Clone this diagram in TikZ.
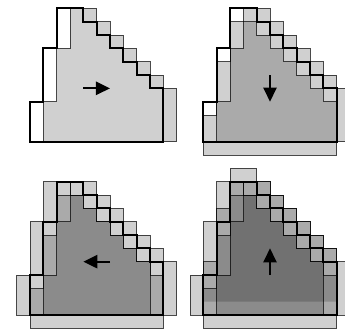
\documentclass[tikz,border=0pt]{standalone}
\usetikzlibrary{arrows.meta}
\begin{document}
\begin{tikzpicture}[x=0.5cm,y=0.5cm,
  layerfill/.style={fill=black,fill opacity=0.185},
  layerline/.style={draw=black,draw opacity=0.7,line width=0.55pt},
  layer/.style={layerfill,layerline},
  boundary/.style={draw=black,line width=1.8pt,line join=miter,opacity=1},
  motion/.style={line width=2pt,-{Triangle[length=0.53cm,width=0.5cm]}}]
\useasboundingbox (-2.25,-14.42) rectangle (23.625,10.625);
% the staircase region on a unit grid
\def\region{(0,0) -- (10,0) -- (10,4) -- (9,4) -- (9,5) -- (8,5) -- (8,6) -- (7,6) -- (7,7) -- (6,7) -- (6,8) -- (5,8) -- (5,9) -- (4,9) -- (4,10) -- (2,10) -- (2,7) -- (1,7) -- (1,3) -- (0,3) -- cycle}
% its border without the bottom side
\def\regiontop{(10,0) -- (10,4) -- (9,4) -- (9,5) -- (8,5) -- (8,6) -- (7,6) -- (7,7) -- (6,7) -- (6,8) -- (5,8) -- (5,9) -- (4,9) -- (4,10) -- (2,10) -- (2,7) -- (1,7) -- (1,3) -- (0,3) -- (0,0)}
% shift right
\begin{scope}
  \begin{scope}[shift={(1,0)}]\path[layer] \region;\end{scope}
  \begin{scope}\draw[boundary] \region;\end{scope}
  \coordinate (r1) at (4,4); \coordinate (r2) at (6,4);
  \draw[motion] (r1) -- (r2);
\end{scope}
% shift down
\begin{scope}[shift={(13,0)}]
  \begin{scope}[shift={(1,0)}]\path[layer] \region;\end{scope}
  \begin{scope}[shift={(0,-1)}]\path[layer] \region;\end{scope}
  \begin{scope}\draw[boundary] \region;\end{scope}
  \coordinate (d1) at (5,5); \coordinate (d2) at (5,3);
  \draw[motion] (d1) -- (d2);
\end{scope}
% shift left
\begin{scope}[shift={(0,-13)}]
  \begin{scope}[shift={(1,0)}]\path[layer] \region;\end{scope}
  \begin{scope}[shift={(0,-1)}]\path[layer] \region;\end{scope}
  \begin{scope}[shift={(-1,0)}]\path[layer] \region;\end{scope}
  \begin{scope}\draw[boundary] \region;\end{scope}
  \coordinate (l1) at (6,4); \coordinate (l2) at (4,4);
  \draw[motion] (l1) -- (l2);
\end{scope}
% shift up
\begin{scope}[shift={(13,-13)}]
  \begin{scope}[shift={(1,0)}]\path[layer] \region;\end{scope}
  \begin{scope}[shift={(0,-1)}]\path[layer] \region;\end{scope}
  \begin{scope}[shift={(-1,0)}]\path[layer] \region;\end{scope}
  \begin{scope}[shift={(0,1)}]\path[layerfill] \region; \path[layerline] \regiontop;\end{scope}
  \begin{scope}\draw[boundary] \region;\end{scope}
  \coordinate (u1) at (5,3); \coordinate (u2) at (5,5);
  \draw[motion] (u1) -- (u2);
\end{scope}
\end{tikzpicture}
\end{document}
